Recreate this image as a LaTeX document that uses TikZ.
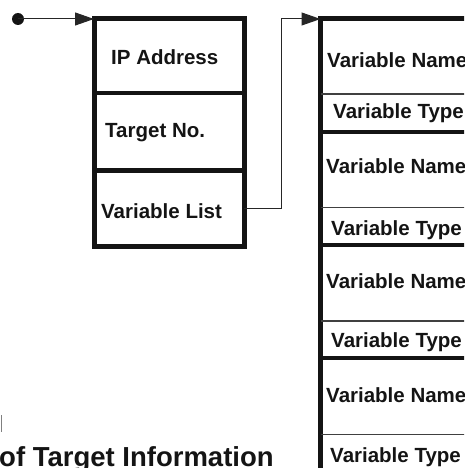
\documentclass[tikz,border=0pt]{standalone}
\usepackage{fontspec}
\setmainfont{Liberation Sans}
\usetikzlibrary{arrows.meta}
\tikzset{
  lbl/.style={font=\bfseries\fontsize{20.5}{22}\selectfont, anchor=base west, inner sep=0pt, text=black!92},
  caption/.style={font=\bfseries\fontsize{27.5}{30}\selectfont, anchor=base west, inner sep=0pt, text=black!92},
  frame/.style={draw=black!92, line width=5pt, outer sep=0pt, inner sep=0pt, anchor=north west},
  thickdiv/.style={draw=black!92, line width=4.5pt},
  thindiv/.style={draw=black!75, line width=1.1pt},
  conn/.style={draw=black!85, line width=1pt, -{Triangle[length=19pt,width=13pt]}},
}
\begin{document}
\begin{tikzpicture}[x=1pt,y=-1pt]
\useasboundingbox (0,0) rectangle (464,468);
\clip (0,0) rectangle (464,468);
% left box
\node[frame, minimum width=150pt, minimum height=227pt] (lbox) at (94,19) {};
\draw[thickdiv] (lbox.west |- 0,93) -- (lbox.east |- 0,93);
\draw[thickdiv] (lbox.west |- 0,170.5) -- (lbox.east |- 0,170.5);
\node[lbl] (ip) at (111,65) {IP Address};
\node[lbl] (tn) at (105,137) {Target No.};
\node[lbl] (vl) at (101,218) {Variable List};
% right box
\node[frame, minimum width=200pt, minimum height=460pt] (rbox) at (320.5,19) {};
\foreach \y in {132,245,358} {
  \draw[thickdiv] (rbox.west |- 0,\y) -- (rbox.east |- 0,\y);
}
\foreach \y in {94,207.5,321,434.5} {
  \draw[thindiv] (rbox.west |- 0,\y) -- (rbox.east |- 0,\y);
}
\node[lbl] (n1) at (327,68) {Variable Name};
\node[lbl] (t1) at (333,119) {Variable Type};
\node[lbl] (n2) at (326,173) {Variable Name};
\node[lbl] (t2) at (331,235) {Variable Type};
\node[lbl] (n3) at (326,288) {Variable Name};
\node[lbl] (t3) at (331,347) {Variable Type};
\node[lbl] (n4) at (326,402) {Variable Name};
\node[lbl] (t4) at (330,462) {Variable Type};
% connectors
\coordinate (dot) at (18,19);
\fill[black!92] (dot) circle (6pt);
\draw[conn] (dot) -- (lbox.north west);
\coordinate (vlout) at (lbox.east |- 0,208);
\draw[conn] (vlout) -- ++(37,0) |- (rbox.north west);
% caption fragment
\draw[draw=black!50, line width=1pt] (1,415) -- (1,432);
\node[caption] (cap) at (-1,466) {of Target Information};
\end{tikzpicture}
\end{document}
